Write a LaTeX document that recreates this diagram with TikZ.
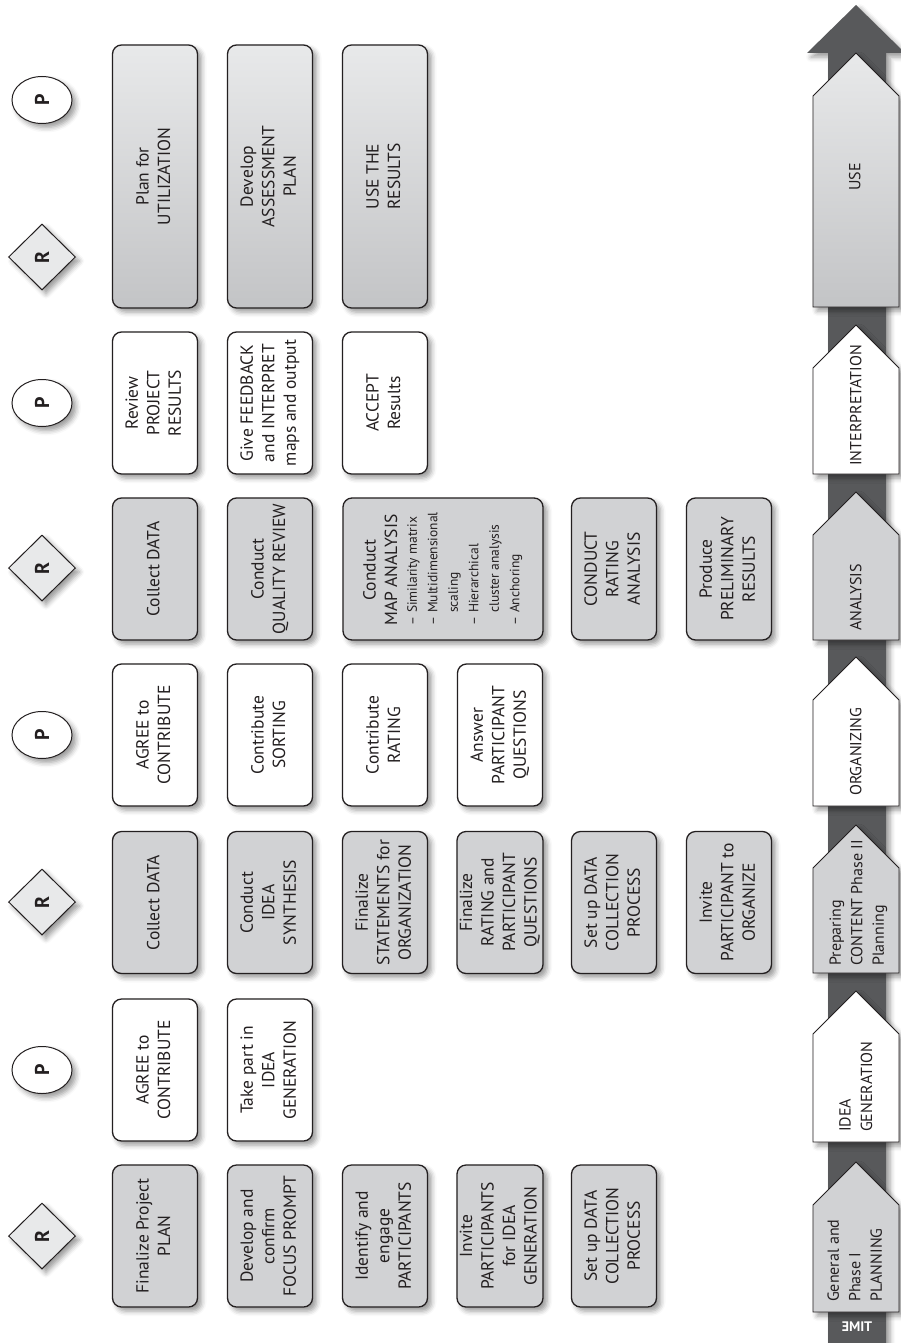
\documentclass[tikz,border=0pt]{standalone}
\usepackage{fontspec}
\setmainfont{PT Sans}
\usepackage{graphicx}
\usetikzlibrary{shapes.geometric,shadows.blur}
\definecolor{boxgray}{HTML}{D1D2D4}
\definecolor{lightg}{HTML}{E8E9EA}
\definecolor{darkg}{HTML}{C3C4C6}
\definecolor{barcol}{HTML}{58595B}
\definecolor{ink}{HTML}{231F20}
\newcommand{\ctxt}[1]{\rotatebox{90}{\begin{tabular}{@{}c@{}}#1\end{tabular}}}
\newcommand{\ltxt}[1]{\rotatebox{90}{\begin{tabular}{@{}l@{}}#1\end{tabular}}}
\begin{document}
\begin{tikzpicture}[x=1pt,y=-1pt,
  font=\fontsize{17.5}{21.5}\selectfont, text=ink,
  shad/.style={blur shadow={shadow xshift=4pt,shadow yshift=-4pt,shadow blur radius=5pt,shadow opacity=40}},
  box/.style={draw=ink, line width=1.3pt, rounded corners=9pt, minimum width=85pt, minimum height=142pt, inner sep=0pt, shad},
  rbox/.style={box, fill=boxgray},
  pbox/.style={box, fill=white},
  bigbox/.style={box, minimum height=263pt, top color=lightg, bottom color=darkg},
  rmark/.style={diamond, draw=ink, line width=1pt, fill=lightg, minimum width=67pt, minimum height=66pt, inner sep=0pt, shad, font=\fontsize{20}{24}\selectfont\bfseries},
  pmark/.style={ellipse, draw=ink, line width=1pt, fill=white, minimum width=60pt, minimum height=47pt, inner sep=0pt, shad, font=\fontsize{20}{24}\selectfont\bfseries},
  phase/.style={draw=ink, line width=0.9pt, shad},
  phtext/.style={inner sep=0pt, anchor=south, font=\fontsize{16}{21.5}\selectfont}
]
\useasboundingbox (0,0) rectangle (901,1343);

% timeline bar
\fill[barcol, shad] (828,1343) -- (828,53) -- (807,53) -- (856,5) -- (905,53) -- (886,53) -- (886,1343) -- cycle;
\node[text=white, font=\fontsize{14}{16}\selectfont\bfseries, xscale=-1] (time) at (857,1327) {TIME};

% phases
\path[phase, fill=boxgray] (813,1312) -- (899,1312) -- (899,1205) -- (856,1162) -- (813,1205) -- cycle;
\path[phase, fill=white]   (813,1142) -- (899,1142) -- (899,1034) -- (856,991) -- (813,1034) -- cycle;
\path[phase, fill=boxgray] (813,973) -- (899,973) -- (899,868) -- (856,825) -- (813,868) -- cycle;
\path[phase, fill=white]   (813,806) -- (899,806) -- (899,700) -- (856,657) -- (813,700) -- cycle;
\path[phase, fill=boxgray] (813,640) -- (899,640) -- (899,535) -- (856,492) -- (813,535) -- cycle;
\path[phase, fill=white]   (813,474) -- (899,474) -- (899,368) -- (856,325) -- (813,368) -- cycle;
\path[phase, top color=lightg, bottom color=darkg] (813,307) -- (899,307) -- (899,96) -- (856,53) -- (813,96) -- cycle;

\node[phtext] (ph1) at (856,1302) {\ltxt{General and\\Phase I\\PLANNING}};
\node[phtext] (ph2) at (857,1132) {\ltxt{IDEA\\GENERATION}};
\node[phtext] (ph3) at (858,966) {\ltxt{Preparing\\CONTENT Phase II\\Planning}};
\node[phtext] (ph4) at (857,796) {\ltxt{ORGANIZING}};
\node[phtext] (ph5) at (857,631) {\ltxt{ANALYSIS}};
\node[phtext] (ph6) at (857,466) {\ltxt{INTERPRETATION}};
\node[inner sep=0pt, font=\fontsize{16}{21.5}\selectfont] (ph7) at (856,177) {\ltxt{USE}};

% role markers
\node[rmark] (m1) at (42,1236) {\rotatebox{90}{R}};
\node[pmark] (m2) at (42,1070) {\rotatebox{90}{P}};
\node[rmark] (m3) at (42,902) {\rotatebox{90}{R}};
\node[pmark] (m4) at (42,735) {\rotatebox{90}{P}};
\node[rmark] (m5) at (42,568) {\rotatebox{90}{R}};
\node[pmark] (m6) at (42,403) {\rotatebox{90}{P}};
\node[rmark] (m7) at (42,257) {\rotatebox{90}{R}};
\node[pmark] (m8) at (42,100) {\rotatebox{90}{P}};

% group R1
\node[rbox] (a1) at (155,1236) {\ctxt{Finalize Project\\PLAN}};
\node[rbox] (a2) at (270,1236) {\ctxt{Develop and\\confirm\\FOCUS PROMPT}};
\node[rbox] (a3) at (385,1236) {\ctxt{Identify and\\engage\\PARTICIPANTS}};
\node[rbox] (a4) at (500,1236) {\ctxt{Invite\\PARTICIPANTS\\for IDEA\\GENERATION}};
\node[rbox] (a5) at (614,1236) {\ctxt{Set up DATA\\COLLECTION\\PROCESS}};

% group P1
\node[pbox] (b1) at (155,1070) {\ctxt{AGREE to\\CONTRIBUTE}};
\node[pbox] (b2) at (270,1070) {\ctxt{Take part in\\IDEA\\GENERATION}};

% group R2
\node[rbox] (c1) at (155,902.5) {\ctxt{Collect DATA}};
\node[rbox] (c2) at (270,902.5) {\ctxt{Conduct\\IDEA\\SYNTHESIS}};
\node[rbox] (c3) at (385,902.5) {\ctxt{Finalize\\STATEMENTS for\\ORGANIZATION}};
\node[rbox] (c4) at (500,902.5) {\ctxt{Finalize\\RATING and\\PARTICIPANT\\QUESTIONS}};
\node[rbox] (c5) at (614,902.5) {\ctxt{Set up DATA\\COLLECTION\\PROCESS}};
\node[rbox] (c6) at (729,902.5) {\ctxt{Invite\\PARTICIPANT to\\ORGANIZE}};

% group P2
\node[pbox] (d1) at (155,735) {\ctxt{AGREE to\\CONTRIBUTE}};
\node[pbox] (d2) at (270,735) {\ctxt{Contribute\\SORTING}};
\node[pbox] (d3) at (385,735) {\ctxt{Contribute\\RATING}};
\node[pbox] (d4) at (500,735) {\ctxt{Answer\\PARTICIPANT\\QUESTIONS}};

% group R3
\node[rbox] (e1) at (155,569) {\ctxt{Collect DATA}};
\node[rbox] (e2) at (270,569) {\ctxt{Conduct\\QUALITY REVIEW}};
\node[rbox, minimum width=200pt] (e3) at (443,569) {\rotatebox{90}{\begin{tabular}{@{}l@{}}%
  \begin{tabular}{@{}c@{}}Conduct\\MAP ANALYSIS\end{tabular}\\[-1pt]
  {\fontsize{13.5}{20.5}\selectfont\begin{tabular}{@{}l@{\hspace{4pt}}l@{}}%
  – & Similarity matrix\\
  – & Multidimensional\\
    & scaling\\
  – & Hierarchical\\
    & cluster analysis\\
  – & Anchoring\end{tabular}}\end{tabular}}};
\node[rbox] (e5) at (614,569) {\ctxt{CONDUCT\\RATING\\ANALYSIS}};
\node[rbox] (e6) at (729,569) {\ctxt{Produce\\PRELIMINARY\\RESULTS}};

% group P3
\node[pbox] (f1) at (155,403) {\ctxt{Review\\PROJECT\\RESULTS}};
\node[pbox] (f2) at (270,403) {\ctxt{Give FEEDBACK\\and INTERPRET\\maps and output}};
\node[pbox] (f3) at (385,403) {\ctxt{ACCEPT\\Results}};

% group R4/P4
\node[bigbox] (g1) at (155,176.5) {\ctxt{Plan for\\UTILIZATION}};
\node[bigbox] (g2) at (270,176.5) {\ctxt{Develop\\ASSESSMENT\\PLAN}};
\node[bigbox] (g3) at (385,176.5) {\ctxt{USE THE\\RESULTS}};
\end{tikzpicture}
\end{document}
